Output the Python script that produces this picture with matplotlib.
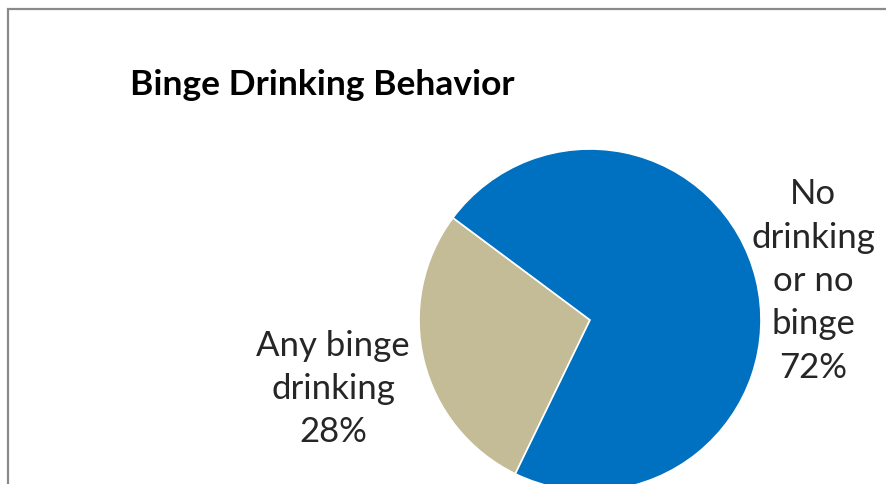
import matplotlib
matplotlib.use("Agg")
import matplotlib.pyplot as plt
from matplotlib.patches import Rectangle

# binge drinking shares (percent)
categories = ["Any binge\ndrinking", "No\ndrinking\nor no\nbinge"]
shares = [28, 72]
colors = ["#C4BC96", "#0070C0"]

W, H = 886, 485
fig = plt.figure(figsize=(W / 100, H / 100), dpi=100)
ax = fig.add_axes([0, 0, 1, 1])

# pie in pixel-like data coordinates, y measured upward
cx, cy, r = 590, H - 321, 171
ax.pie(shares, colors=colors, startangle=143.3, counterclock=True,
       center=(cx, cy), radius=r,
       wedgeprops=dict(linewidth=1.2, edgecolor="white"))
ax.set_xlim(0, W)
ax.set_ylim(0, H)
ax.set_aspect("equal")
ax.axis("off")

font = ["Lato", "DejaVu Sans"]
label_pos = [(333, 389), (813, 281)]
for name, val, (x, y) in zip(categories, shares, label_pos):
    ax.text(x, H - y, f"{name}\n{val}%", ha="center", va="center",
            fontsize=25, family=font, color="#262626", linespacing=1.44)

ax.text(130, H - 85, "Binge Drinking Behavior", ha="left", va="center",
        fontsize=25.5, fontweight="bold", family=font, color="black")

# chart frame (runs past the right and bottom edges)
ax.add_patch(Rectangle((8.5, -20), W + 40, H - 9.5 + 20, fill=False,
                       edgecolor="#8a8a8a", linewidth=1.6, clip_on=False))

fig.savefig("out.png", dpi=100)
